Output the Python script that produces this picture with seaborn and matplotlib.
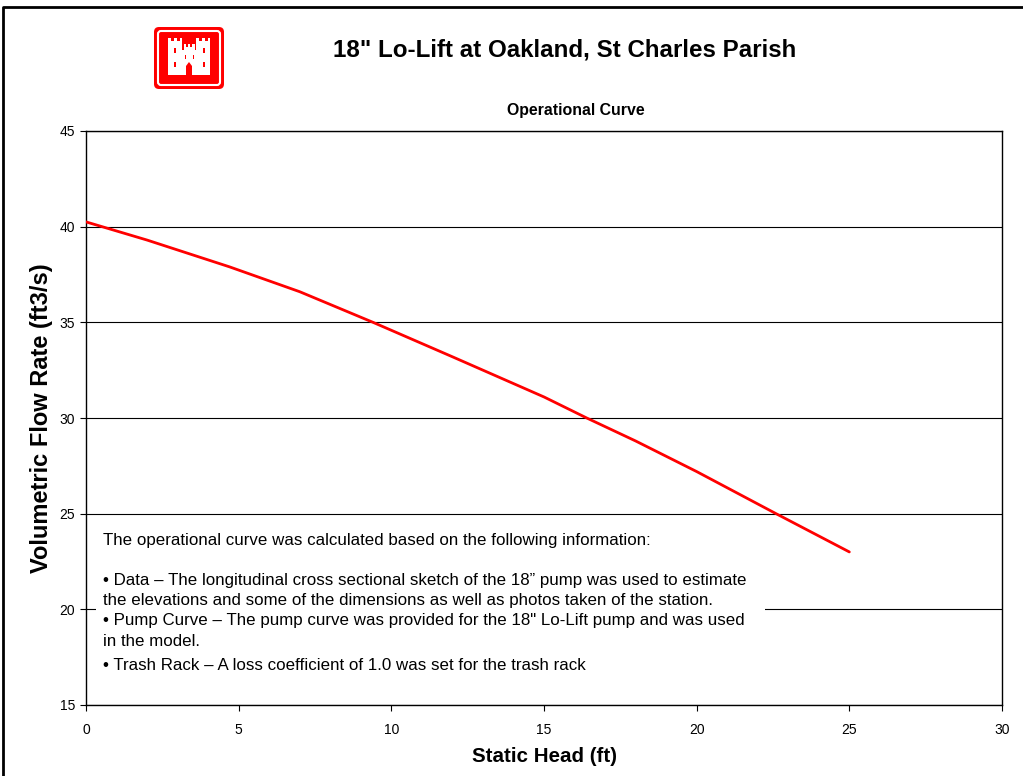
import matplotlib
matplotlib.use('Agg')
import matplotlib.pyplot as plt
import seaborn as sns
from matplotlib.patches import FancyBboxPatch, Rectangle, Polygon
from matplotlib.lines import Line2D

# pump operating curve
static_head = [0, 2, 4.7, 7, 9.4, 12, 15, 16.4, 18, 20, 22.6, 25]
flow_rate = [40.25, 39.3, 37.9, 36.6, 35.0, 33.2, 31.1, 30.0, 28.8, 27.2, 25.0, 23.0]

x_ticks = [0, 5, 10, 15, 20, 25, 30]
y_ticks = [15, 20, 25, 30, 35, 40, 45]

title = '18" Lo-Lift at Oakland, St Charles Parish'
subtitle = 'Operational Curve'
note_lines = [
    'The operational curve was calculated based on the following information:',
    '',
    '\u2022 Data \u2013 The longitudinal cross sectional sketch of the 18\u201d pump was used to estimate',
    'the elevations and some of the dimensions as well as photos taken of the station.',
    '\u2022 Pump Curve \u2013 The pump curve was provided for the 18" Lo-Lift pump and was used',
    'in the model.',
    '\u2022 Trash Rack \u2013 A loss coefficient of 1.0 was set for the trash rack',
]

sns.set_style('white')
plt.rcParams['font.family'] = ['Liberation Sans', 'DejaVu Sans']
plt.rcParams['text.color'] = 'black'
plt.rcParams['axes.labelcolor'] = 'black'
plt.rcParams['xtick.color'] = 'black'
plt.rcParams['ytick.color'] = 'black'

W, H = 1023, 776
fig = plt.figure(figsize=(W / 100, H / 100), dpi=100)

def fx(px):
    return px / W

def fy(py):
    return 1 - py / H

ax = fig.add_axes([fx(86), fy(705), fx(1002) - fx(86), fy(131) - fy(705)])
sns.lineplot(x=static_head, y=flow_rate, color='#ff0000', linewidth=2, ax=ax,
             estimator=None, sort=False, zorder=3)
ax.set_xlim(0, 30)
ax.set_ylim(15, 45)
ax.set_xticks(x_ticks)
ax.set_yticks(y_ticks)
ax.tick_params(axis='both', direction='out', length=4.3, width=0.8, color='black',
               labelsize=10, pad=3.5, bottom=True, left=True)
ax.tick_params(axis='x', pad=9)
for s in ax.spines.values():
    s.set_color('black')
    s.set_linewidth(1.0)
ax.yaxis.grid(True, color='black', linewidth=0.8)
ax.set_axisbelow(True)
ax.set_xlabel('Static Head (ft)', fontsize=14.8, fontweight='bold', labelpad=7)
ax.set_ylabel('Volumetric Flow Rate (ft3/s)', fontsize=17, fontweight='bold', labelpad=5)

# white note box over the lower part of the plot
ax.add_patch(Rectangle((0.33, 15.3), 21.9, 9.3, facecolor='white', edgecolor='none', zorder=2))
y0 = 540
steps = [0, 20, 40, 60, 81, 101, 126]
for line, dy in zip(note_lines, steps):
    fig.text(fx(103), fy(y0 + dy), line, fontsize=12.2, va='center', ha='left', zorder=5)

fig.text(fx(565), fy(50), title, fontsize=17.4, fontweight='bold', ha='center', va='center')
fig.text(fx(576), fy(110), subtitle, fontsize=11.4, fontweight='bold', ha='center', va='center')

# outer frame (top and left)
fig.add_artist(Line2D([fx(3), fx(3), 1.0], [0.0, fy(7), fy(7)], color='black', linewidth=2,
                      transform=fig.transFigure))

# logo
lax = fig.add_axes([fx(153), fy(90), fx(225) - fx(153), fy(26) - fy(90)])
lax.set_xlim(0, 72)
lax.set_ylim(64, 0)
lax.axis('off')
lax.add_patch(FancyBboxPatch((1, 1), 70, 62, boxstyle='round,pad=0,rounding_size=5',
                             facecolor='#ff0000', edgecolor='none'))
lax.add_patch(FancyBboxPatch((5, 5), 62, 54, boxstyle='round,pad=0,rounding_size=3',
                             facecolor='none', edgecolor='white', linewidth=1.5))
castle = [(15, 49), (15, 12), (17.5, 12), (17.5, 15), (20.5, 15), (20.5, 12), (23.5, 12),
          (23.5, 15), (26.5, 15), (26.5, 12), (29, 12), (29, 24),
          (30.5, 24), (30.5, 18), (33, 18), (33, 21), (35, 21), (35, 18), (37, 18),
          (37, 21), (39, 21), (39, 18), (41.5, 18), (41.5, 24), (43, 24),
          (43, 12), (45.5, 12), (45.5, 15), (48.5, 15), (48.5, 12), (51.5, 12), (51.5, 15),
          (54.5, 15), (54.5, 12), (57, 12), (57, 49)]
lax.add_patch(Polygon(castle, closed=True, facecolor='white', edgecolor='none'))
lax.add_patch(Polygon([(33, 49), (33, 40), (36, 36), (39, 40), (39, 49)], closed=True,
                      facecolor='#ff0000', edgecolor='none'))
for wx in (20.5, 50):
    lax.add_patch(Rectangle((wx, 22), 2, 5, facecolor='#ff0000', edgecolor='none'))
    lax.add_patch(Rectangle((wx, 36), 2, 5, facecolor='#ff0000', edgecolor='none'))
for wx in (31.5, 39.5):
    lax.add_patch(Rectangle((wx, 29), 1.5, 4, facecolor='#ff0000', edgecolor='none'))

fig.savefig('out.png', dpi=100)
